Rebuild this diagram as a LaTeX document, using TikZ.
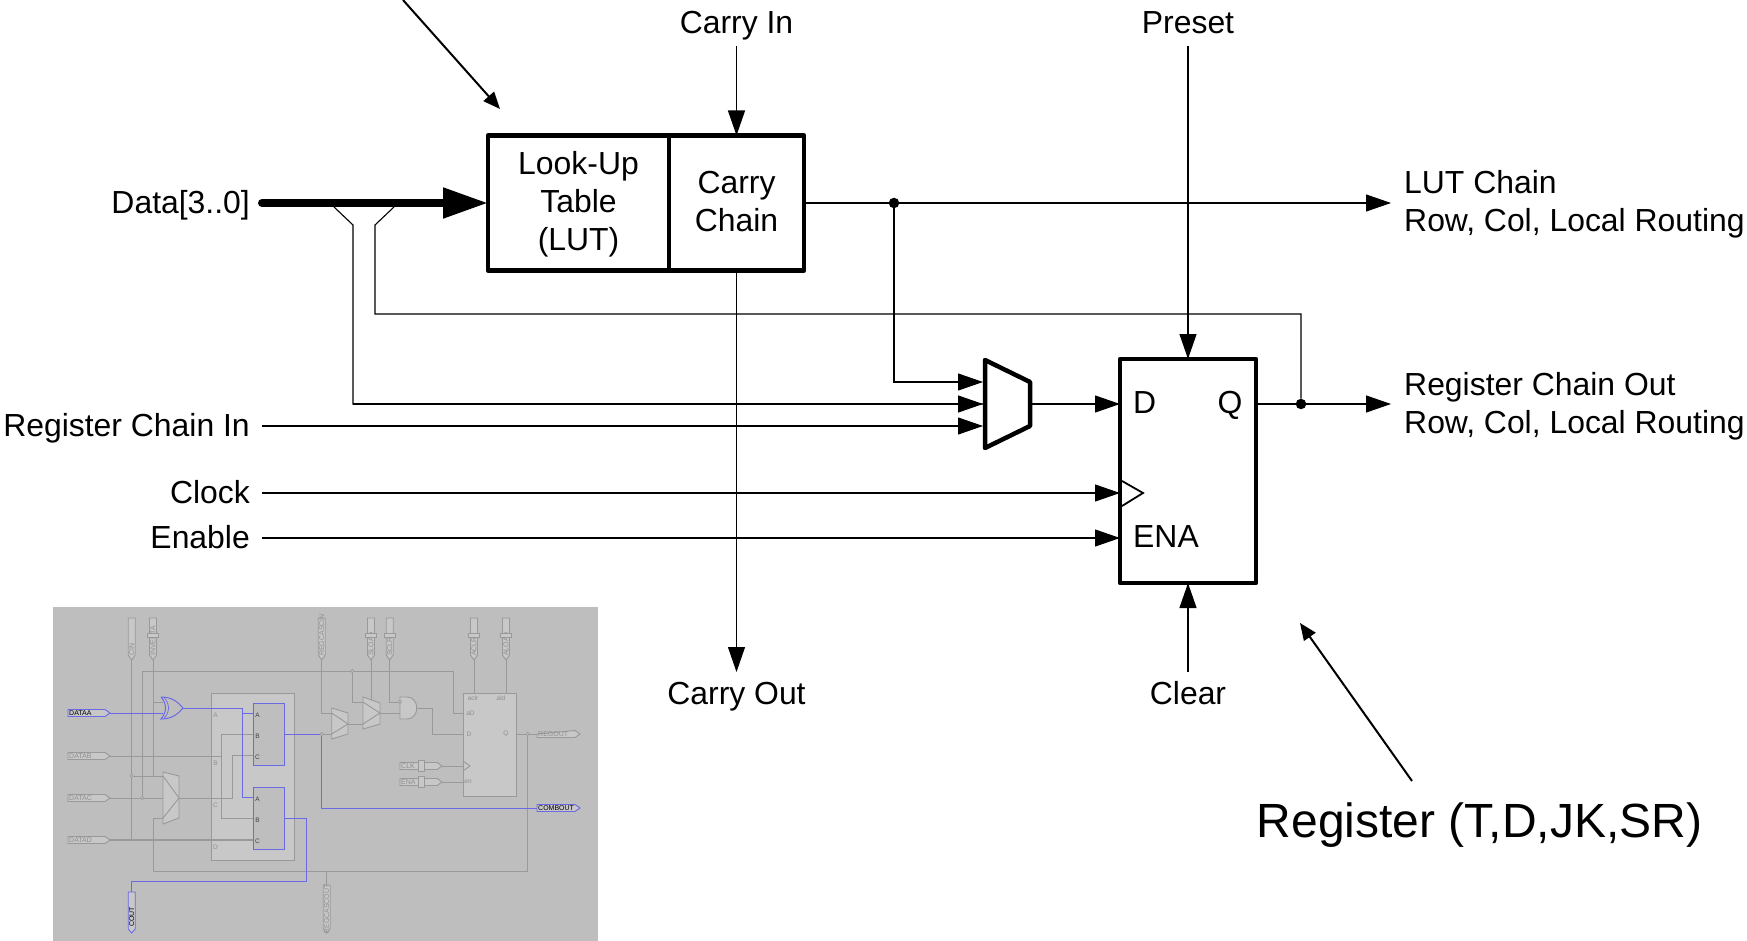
\documentclass[tikz,border=0pt]{standalone}
\usepackage{fontspec}
\setmainfont{Liberation Sans}
\usetikzlibrary{arrows.meta}
\usetikzlibrary{scopes}

\definecolor{insetbg}{HTML}{BEBEBE}
\definecolor{insetlight}{HTML}{C8C8C8}
\definecolor{insetwire}{HTML}{999999}
\definecolor{insetblue}{HTML}{6A6AE6}
\definecolor{insettext}{HTML}{8E8E8E}

\tikzset{
	wire/.style={line width=1.1pt},
	tipwire/.style={wire, -{Triangle[length=25pt,width=17pt]}},
	block/.style={draw, line width=4.5pt, rectangle, inner sep=0pt, outer sep=0pt, line join=round},
	txt/.style={font=\fontsize{31.9}{38}\selectfont, inner sep=0pt},
	lbl/.style={txt, inner sep=12pt, text height=21pt, text depth=0pt},
	lbltwo/.style={txt, inner ysep=0pt, inner xsep=13pt, align=left},
	dot/.style={circle, fill, inner sep=0pt, minimum size=10.5pt},
	gwire/.style={insetwire, line width=0.9pt},
	bwire/.style={insetblue, line width=0.9pt},
	pinbox/.style={draw=insetwire, fill=insetlight, line width=0.9pt},
	pintext/.style={font=\fontsize{7}{8}\selectfont, inner sep=0pt, insettext},
	gbox/.style={draw=insetwire, fill=insetlight, line width=0.9pt, rectangle, inner sep=0pt, outer sep=0pt},
	lutcell/.style={draw=insetblue, fill=insetbg, line width=0.9pt, rectangle, inner sep=0pt, outer sep=0pt},
	gdot/.style={circle, draw=insetwire, fill=insetbg, line width=0.6pt, inner sep=0pt, minimum size=3.5pt},
	port/.style={font=\fontsize{6.5}{7}\selectfont, inner sep=0pt, insettext},
	cellport/.style={font=\fontsize{6.5}{7}\selectfont, inner sep=0pt, black!75}
}

\begin{document}
\begin{tikzpicture}[x=1pt,y=-1pt]
	\useasboundingbox (0,0) rectangle (1747,941);

	% main blocks
	\node[block, minimum width=181pt, minimum height=135pt] (lut) at (578.5,203) {};
	\node[txt, align=center] (luttext) at (578.5,204.5) {Look-Up\\Table\\(LUT)};
	\node[block, minimum width=135pt, minimum height=135pt] (carry) at (736.5,203) {};
	\node[txt, align=center] (carrytext) at (736.5,202) {Carry\\Chain};
	\node[block, minimum width=136pt, minimum height=224pt] (reg) at (1188,471) {};
	\node[txt, anchor=base west] (regD) at (1133,413) {D};
	\node[txt, anchor=base] (regQ) at (1230,413) {Q};
	\node[txt, anchor=base west] (regENA) at (1133,547) {ENA};
	\draw[line width=1.8pt] (1122,481) -- (1143,493) -- (1122,506);
	\draw[line width=4.5pt, line join=round] (985,360) -- (1030,382) -- (1030,426) -- (985,448) -- cycle;

	% labels
	\node[lbl, anchor=east] (data) at (262,203) {Data[3..0]};
	\node[lbl, anchor=east] (chainin) at (262,426) {Register Chain In};
	\node[lbl, anchor=east] (clock) at (262,493) {Clock};
	\node[lbl, anchor=east] (enable) at (262,538) {Enable};
	\node[lbl, anchor=south] (carryin) at (736.5,46) {Carry In};
	\node[lbl, anchor=south] (preset) at (1188,46) {Preset};
	\node[lbl, anchor=north, inner ysep=11pt] (carryout) at (736.5,672) {Carry Out};
	\node[lbl, anchor=north, inner ysep=11pt] (clear) at (1188,672) {Clear};
	\node[lbltwo, anchor=west] (lutchain) at (1391,204.5) {LUT Chain\\Row, Col, Local Routing};
	\node[lbltwo, anchor=west] (regchain) at (1391,406) {Register Chain Out\\Row, Col, Local Routing};
	\node[font=\fontsize{48}{56}\selectfont, inner sep=0pt] (regname) at (1479.5,825) {Register (T,D,JK,SR)};

	\coordinate (lutarrow) at (500,109);
	\coordinate (luttop) at (403,0);
	\coordinate (regarrow) at (1300,623);
	\coordinate (regtail) at (1412,781);
	\coordinate (muxA) at (983,382);
	\coordinate (muxB) at (983,404);
	\coordinate (muxC) at (983,426);
	\coordinate (muxout) at (1031,404);
	\coordinate (regDin) at (1120,404);
	\coordinate (regQout) at (1256,404);
	\coordinate (regclk) at (1120,493);
	\coordinate (regena) at (1120,538);
	\coordinate (tapA) at (334,207);
	\coordinate (tapAb) at (353,225);
	\coordinate (tapB) at (394,207);
	\coordinate (tapBb) at (375,225);
	\coordinate (looptop) at (375,314);
	\node[dot] (lutdot) at (894,203) {};
	\node[dot] (regdot) at (1301,404) {};

	% connectors
	\draw[line width=8pt, line cap=round] (data.east) -- (445,203);
	\draw[-{Triangle[length=45pt,width=29pt]}, line width=8pt, line cap=butt] (440,203) -- (lut.west);
	\draw[wire] (tapA) -- (tapAb) |- (muxB);
	\draw[wire] (tapB) -- (tapBb) -- (looptop) -| (regdot);
	\draw[tipwire] (tapAb |- muxB) -- (muxB);
	\draw[tipwire] (chainin.east) -- (muxC);
	\draw[tipwire] (lutdot) |- (muxA);
	\draw[tipwire] (carry.east) -- (lutdot -| lutchain.west);
	\draw[tipwire] (carryin.south) -- (carry.north);
	\draw[tipwire] (carry.south) -- (carryout.north);
	\draw[tipwire] (preset.south) -- (reg.north);
	\draw[tipwire] (clear.north) -- (reg.south);
	\draw[tipwire] (muxout) -- (regDin);
	\draw[tipwire] (clock.east) -- (regclk);
	\draw[tipwire] (enable.east) -- (regena);
	\draw[tipwire] (regQout) -- (regdot -| regchain.west);
	\draw[line width=2pt, -{Triangle[length=17pt,width=14pt]}] (luttop) -- (lutarrow);
	\draw[line width=2pt, -{Triangle[length=17pt,width=14pt]}] (regtail) -- (regarrow);

	% inset
	\begin{scope}
		\fill[insetbg] (53,607) rectangle (598,941);
		\node[gbox, minimum width=83pt, minimum height=167pt] (lutouter) at (252.5,776.5) {};

		\foreach \pname/\px in {CIN/131.7, INVERTA/153, REGCASCIN/321.7, SLOAD/371, SCLR/389.7, ACLR/474, ALOAD/506} {
			\coordinate (\pname) at (\px,660);
		}
		\foreach \pname/\py in {DATAA/713, DATAB/756, DATAC/798, DATAD/840} {
			\coordinate (\pname) at (110,\py);
		}
		\coordinate (CLK) at (442,766);
		\coordinate (ENA) at (442,782);
		\coordinate (REGOUT) at (537,734);
		\coordinate (COMBOUT) at (537,808);
		\coordinate (COUT) at (131.7,892);
		\coordinate (REGCASCOUT) at (326.7,885);

		\coordinate (upA) at (253,713);
		\coordinate (upB) at (253,734);
		\coordinate (upC) at (253,755);
		\coordinate (loA) at (253,797);
		\coordinate (loB) at (253,818);
		\coordinate (loC) at (253,840);
		\coordinate (upout) at (284,734);
		\coordinate (loout) at (284,818);
		\coordinate (xorout) at (183,708);
		\coordinate (xorA) at (163,713);
		\coordinate (xorB) at (163,702);
		\coordinate (muxI) at (163,776);
		\coordinate (muxII) at (163,818);
		\coordinate (muxO) at (179,798);
		\coordinate (muxIIa) at (331.7,713);
		\coordinate (muxIIb) at (331.7,734);
		\coordinate (muxIIo) at (348,724);
		\coordinate (muxIIIa) at (363,702);
		\coordinate (muxIIIb) at (363,724);
		\coordinate (muxIIIo) at (380,713);
		\coordinate (andA) at (400,702);
		\coordinate (andB) at (400,713);
		\coordinate (andout) at (417,708);
		\coordinate (cinjoin) at (131.7,776);
		\coordinate (datacjoin) at (142.3,798);
		\coordinate (topjoin) at (352.3,671);
		\coordinate (blueturn) at (321.7,734);
		\coordinate (qjoin) at (527.7,734);

		% gray wires
		\draw[gwire] (CIN) -- (CIN |- DATAD);
		\draw[gwire, line width=1.3pt] (DATAD) -- (loC);
		\draw[gwire] (INVERTA) -- (INVERTA |- muxI);
		\draw[gwire] (cinjoin) -- (muxI);
		\draw[gwire] (INVERTA |- xorB) -- (xorB);
		\draw[gwire] (datacjoin) |- (453.7,671) |- (463,713);
		\draw[gwire] (DATAC) -| (232,755) -- (upC);
		\draw[gwire] (DATAB) -| (221.7,734) -- (upB);
		\draw[gwire] (221.7,734) |- (loB);
		\draw[gwire] (muxII) -| (153,871) -| (qjoin);
		\draw[gwire] (REGCASCIN) |- (muxIIa);
		\draw[gwire] (blueturn) -- (muxIIb);
		\draw[gwire] (muxIIo) -- (muxIIIb);
		\draw[gwire] (topjoin) |- (muxIIIa);
		\draw[gwire] (SLOAD) -- (371,700);
		\draw[gwire] (SCLR) |- (andA);
		\draw[gwire] (muxIIIo) -- (andB);
		\draw[gwire] (andout) -| (432,734) -- (463,734);
		\draw[gwire] (ACLR) -- (474,693);
		\draw[gwire] (ALOAD) -- (506,693);
		\draw[gwire] (516,734) -- (REGOUT);
		\draw[gwire] (CLK) -- (463,766);
		\draw[gwire] (ENA) -- (463,782);
		\draw[gwire] (REGCASCOUT) -- (326.7,871);

		% blue wires
		\draw[bwire] (DATAA) -- (xorA);
		\draw[bwire] (xorout) -| (242,797) -- (loA);
		\draw[bwire] (242,713) -- (upA);
		\draw[bwire] (upout) -- (blueturn) |- (COMBOUT);
		\draw[bwire] (loout) -| (306,881.7) -| (COUT);

		% muxes and gates
		\draw[gbox] (163,772) -- (179,776) -- (179,818) -- (163,824) -- cycle;
		\draw[gwire] (163,776) -- (179,798) -- (163,818);
		\draw[gbox] (331.7,708) -- (348,713) -- (348,734) -- (331.7,739) -- cycle;
		\draw[gwire] (331.7,713) -- (348,724) -- (331.7,734);
		\draw[gbox] (363,697) -- (380,703) -- (380,724) -- (363,729) -- cycle;
		\draw[gwire] (363,702) -- (380,713) -- (363,724);
		\draw[gbox] (400,697) -- (407,697) .. controls (420,697) and (420,719) .. (407,719) -- (400,719) -- cycle;
		\draw[insetblue, line width=1pt] (161,697) .. controls (172,697) and (178,702) .. (183,708) .. controls (178,714) and (172,719) .. (161,719) .. controls (167,712) and (167,704) .. (161,697);
		\draw[insetblue, line width=0.7pt] (164,697.5) .. controls (170,704) and (170,712) .. (164,718.5);

		% LUT cells
		\node[lutcell, minimum width=31pt, minimum height=62pt] (lutup) at (268.5,734) {};
		\node[lutcell, minimum width=31pt, minimum height=62pt] (lutlo) at (268.5,818) {};
		\foreach \pletter/\py in {A/715, B/736, C/757} {
			\node[cellport] (up\pletter t) at (257.5,\py) {\pletter};
		}
		\foreach \pletter/\py in {A/799, B/820, C/841} {
			\node[cellport] (lo\pletter t) at (257.5,\py) {\pletter};
		}
		\foreach \pletter/\py in {A/715, B/763, C/805, D/847} {
			\node[port] (outer\pletter) at (215.5,\py) {\pletter};
		}

		% register
		\node[gbox, minimum width=53pt, minimum height=103pt] (insetreg) at (489.5,744.5) {};
		\node[port] (regaclr) at (473,698) {aclr};
		\node[port] (regald) at (501,698) {ald};
		\node[port] (regaD) at (470.5,713) {aD};
		\node[port] (regDi) at (469,734) {D};
		\node[port] (regQo) at (506,734) {Q};
		\node[port] (regen) at (468,782) {en};
		\draw[gwire] (463,761) -- (470,766) -- (463,771);

		% dots
		\foreach \pjoin in {cinjoin, datacjoin, topjoin, blueturn, qjoin, andA} {
			\node[gdot] at (\pjoin) {};
		}

		% pins
		\foreach \pname/\px in {CIN/131.7, INVERTA/153, REGCASCIN/321.7, SLOAD/371, SCLR/389.7, ACLR/474, ALOAD/506} {
			\draw[pinbox] (\px-3.5,618) -- (\px+3.5,618) -- (\px+3.5,655) -- (\px,660) -- (\px-3.5,655) -- cycle;
			\node[pintext, rotate=90, anchor=west] (t\pname) at (\px,656) {\pname};
		}
		\foreach \px in {153, 371, 389.7, 474, 506} {
			\draw[pinbox] (\px-5.5,633.5) rectangle (\px+5.5,637);
		}
		\foreach \pname/\py in {DATAB/756, DATAC/798, DATAD/840} {
			\draw[pinbox] (68,\py-3.5) -- (105,\py-3.5) -- (110,\py) -- (105,\py+3.5) -- (68,\py+3.5) -- cycle;
			\node[pintext, anchor=west] (t\pname) at (69,\py) {\pname};
		}
		\draw[pinbox, draw=insetblue] (68,709.5) -- (105,709.5) -- (DATAA) -- (105,716.5) -- (68,716.5) -- cycle;
		\node[pintext, black, anchor=west] (tDATAA) at (69,713) {DATAA};
		\foreach \pname/\py in {CLK/766, ENA/782} {
			\draw[pinbox] (400,\py-3.5) -- (437,\py-3.5) -- (442,\py) -- (437,\py+3.5) -- (400,\py+3.5) -- cycle;
			\draw[pinbox] (418,\py-5.5) rectangle (424,\py+5.5);
			\node[pintext, anchor=west] (t\pname) at (401,\py) {\pname};
		}
		\draw[pinbox] (REGOUT) -- (575,730.5) -- (580,734) -- (575,737.5) -- (537,737.5) -- cycle;
		\node[pintext, anchor=west] (tREGOUT) at (538,734) {REGOUT};
		\draw[pinbox, draw=insetblue] (537,804.5) -- (575,804.5) -- (580,808) -- (575,811.5) -- (537,811.5) -- cycle;
		\node[pintext, black, anchor=west] (tCOMBOUT) at (538,808) {COMBOUT};
		\draw[pinbox, draw=insetblue] (128.2,892) -- (135.2,892) -- (135.2,929) -- (131.7,933) -- (128.2,929) -- cycle;
		\node[pintext, black, rotate=90] (tCOUT) at (131.7,917) {COUT};
		\draw[pinbox] (323.2,885) -- (330.2,885) -- (330.2,929) -- (326.7,933) -- (323.2,929) -- cycle;
		\node[pintext, rotate=90] (tREGCASCOUT) at (326.7,909) {REGCASCOUT};
	\end{scope}
\end{tikzpicture}
\end{document}
